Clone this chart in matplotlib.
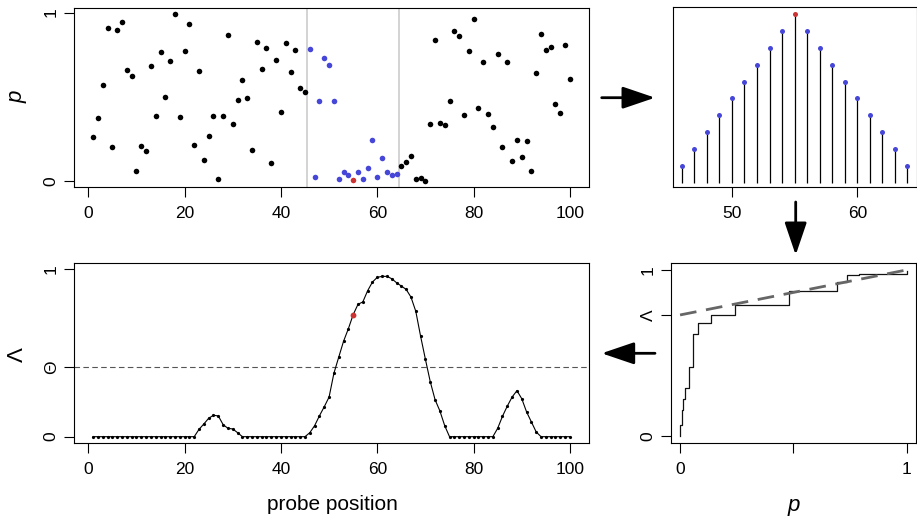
import matplotlib.pyplot as plt
import numpy as np
from matplotlib.patches import FancyArrowPatch

plt.rcParams['font.family'] = ['Liberation Sans', 'DejaVu Sans']

# probe p-values along the sequence
positions = np.arange(1, 101)
p_values = [0.266, 0.373, 0.572, 0.908, 0.204, 0.896, 0.943, 0.661, 0.627, 0.063,
            0.207, 0.178, 0.686, 0.385, 0.767, 0.497, 0.716, 0.990, 0.381, 0.775,
            0.933, 0.213, 0.651, 0.127, 0.268, 0.387, 0.016, 0.385, 0.868, 0.341,
            0.483, 0.600, 0.493, 0.188, 0.827, 0.667, 0.793, 0.111, 0.722, 0.412,
            0.819, 0.647, 0.781, 0.554, 0.531, 0.787, 0.026, 0.478, 0.732, 0.692,
            0.478, 0.016, 0.057, 0.041, 0.006, 0.057, 0.014, 0.081, 0.243, 0.024,
            0.138, 0.057, 0.041, 0.043, 0.091, 0.117, 0.148, 0.016, 0.022, 0.004,
            0.340, 0.837, 0.347, 0.334, 0.478, 0.892, 0.862, 0.391, 0.775, 0.959,
            0.434, 0.710, 0.401, 0.325, 0.756, 0.205, 0.710, 0.122, 0.247, 0.144,
            0.241, 0.059, 0.641, 0.874, 0.777, 0.795, 0.456, 0.408, 0.809, 0.604]

# sliding window and its kernel weights
window_lo, window_hi, center = 46, 64, 55
window_pos = [46, 47, 48, 49, 50, 51, 52, 53, 54, 55, 56, 57, 58, 59, 60, 61, 62, 63, 64]
weights = [1, 2, 3, 4, 5, 6, 7, 8, 9, 10, 9, 8, 7, 6, 5, 4, 3, 2, 1]

# smoothed statistic per probe
lambda_values = [0, 0, 0, 0, 0, 0, 0, 0, 0, 0,
                 0, 0, 0, 0, 0, 0, 0, 0, 0, 0,
                 0, 0, 0.044, 0.076, 0.110, 0.128, 0.124, 0.072, 0.050, 0.046,
                 0.024, 0, 0, 0, 0, 0, 0, 0, 0, 0,
                 0, 0, 0, 0, 0, 0.024, 0.066, 0.125, 0.179, 0.237,
                 0.379, 0.475, 0.570, 0.645, 0.729, 0.791, 0.805, 0.872, 0.924, 0.952,
                 0.958, 0.958, 0.944, 0.920, 0.900, 0.880, 0.834, 0.749, 0.600, 0.462,
                 0.329, 0.221, 0.154, 0.066, 0, 0, 0, 0, 0, 0,
                 0, 0, 0, 0, 0.050, 0.122, 0.183, 0.237, 0.275, 0.227,
                 0.148, 0.088, 0.028, 0, 0, 0, 0, 0, 0, 0]
theta = 0.415
lam_hat = 0.729

# weighted cdf of p in the window
cdf_p = [0.0, 0.0015, 0.010, 0.015, 0.020, 0.039, 0.057, 0.079, 0.138, 0.244, 0.481, 0.691, 0.735, 0.791, 1.0]
cdf_lam = [0.0, 0.064, 0.155, 0.223, 0.290, 0.414, 0.616, 0.682, 0.727, 0.787, 0.875, 0.926, 0.968, 0.976, 0.996]
fit_p = [0.0, 1.0]
fit_lam = [0.729, 1.0]

BLUE = '#4646d8'
RED = '#cc3333'
W, H = 917, 517

fig = plt.figure(figsize=(W / 100, H / 100), dpi=100)


def box(l, t, r, b):
    ax = fig.add_axes([l / W, 1 - b / H, (r - l) / W, (b - t) / H])
    for s in ax.spines.values():
        s.set_linewidth(0.8)
    ax.tick_params(length=7, width=0.8, labelsize=12.5, pad=4)
    ax.tick_params(axis='x', pad=7)
    return ax


def rot_y(ax):
    for lab in ax.get_yticklabels():
        lab.set_rotation(90)
        lab.set_va('center')


pos = np.array(positions)
p = np.array(p_values)
in_win = (pos >= window_lo) & (pos <= window_hi)

# top left: p-values
ax1 = box(74, 8, 589, 187)
ax1.axvline(window_lo - 0.5, color='#c8c8c8', lw=1.1, zorder=0)
ax1.axvline(window_hi + 0.5, color='#c8c8c8', lw=1.1, zorder=0)
ax1.plot(pos[~in_win], p[~in_win], 'o', color='k', ms=4, mew=0)
blue = in_win & (pos != center)
ax1.plot(pos[blue], p[blue], 'o', color=BLUE, ms=4, mew=0)
ax1.plot([center], [p[center - 1]], 'o', color=RED, ms=4, mew=0)
ax1.set_xlim(-2.96, 103.96)
ax1.set_ylim(-0.033, 1.027)
ax1.set_xticks([0, 20, 40, 60, 80, 100])
ax1.set_yticks([0, 1])
rot_y(ax1)

# top right: kernel weights
ax2 = box(672.7, 6.7, 916.5, 186.7)
wp = np.array(window_pos)
w = np.array(weights)
ax2.vlines(wp, 0, w, color='k', lw=0.9)
ax2.plot(wp[wp != center], w[wp != center], 'o', color=BLUE, ms=3.6, mew=0)
ax2.plot(wp[wp == center], w[wp == center], 'o', color=RED, ms=3.6, mew=0)
ax2.set_xlim(45.28, 64.72)
ax2.set_ylim(-0.2, 10.41)
ax2.set_xticks([50, 60])
ax2.set_yticks([])

# bottom left: smoothed statistic
ax3 = box(74, 263.3, 589, 442.7)
ax3.axhline(theta, color='#555555', lw=0.8, ls=(0, (5, 3)))
ax3.plot(positions, lambda_values, '-o', color='k', lw=0.8, ms=2.3, mew=0)
ax3.plot([center], [lambda_values[center - 1]], 'o', color=RED, ms=4.2, mew=0)
ax3.set_xlim(-2.96, 103.96)
ax3.set_ylim(-0.036, 1.036)
ax3.set_xticks([0, 20, 40, 60, 80, 100])
ax3.set_yticks([0, theta, 1])
ax3.set_yticklabels(['0', 'Θ', '1'])
rot_y(ax3)

# bottom right: weighted cdf
ax4 = box(671, 263.3, 915.7, 442.7)
ax4.step(cdf_p, cdf_lam, where='post', color='#111111', lw=0.9)
ax4.plot(fit_p, fit_lam, color='#666666', lw=2, ls=(0, (6, 3.5)))
ax4.set_xlim(-0.04, 1.04)
ax4.set_ylim(-0.04, 1.04)
ax4.set_xticks([0, 0.5, 1])
ax4.set_xticklabels(['0', '', '1'])
ax4.set_yticks([0, lam_hat, 1])
ax4.set_yticklabels(['0', 'Λ', '1'])
rot_y(ax4)

fig.text(17 / W, 1 - 97 / H, 'p', rotation=90, style='italic', fontsize=16, ha='center', va='center')
fig.text(17 / W, 1 - 355 / H, 'Λ', rotation=90, fontsize=16, ha='center', va='center')
fig.text(332 / W, 1 - 505 / H, 'probe position', fontsize=15, ha='center', va='center')
fig.text(794 / W, 1 - 505 / H, 'p', style='italic', fontsize=16, ha='center', va='center')

arrows = [((601.7, 97.7), (655, 97.7)),
          ((795.7, 202), (795.7, 255)),
          ((655, 353.3), (601.7, 353.3))]
for (x0, y0), (x1, y1) in arrows:
    fig.add_artist(FancyArrowPatch((x0 / W, 1 - y0 / H), (x1 / W, 1 - y1 / H),
                                   transform=fig.transFigure,
                                   arrowstyle='-|>,head_length=1.0,head_width=0.34',
                                   mutation_scale=20, lw=2, color='k',
                                   shrinkA=0, shrinkB=0))

fig.savefig('out.png', dpi=100)
